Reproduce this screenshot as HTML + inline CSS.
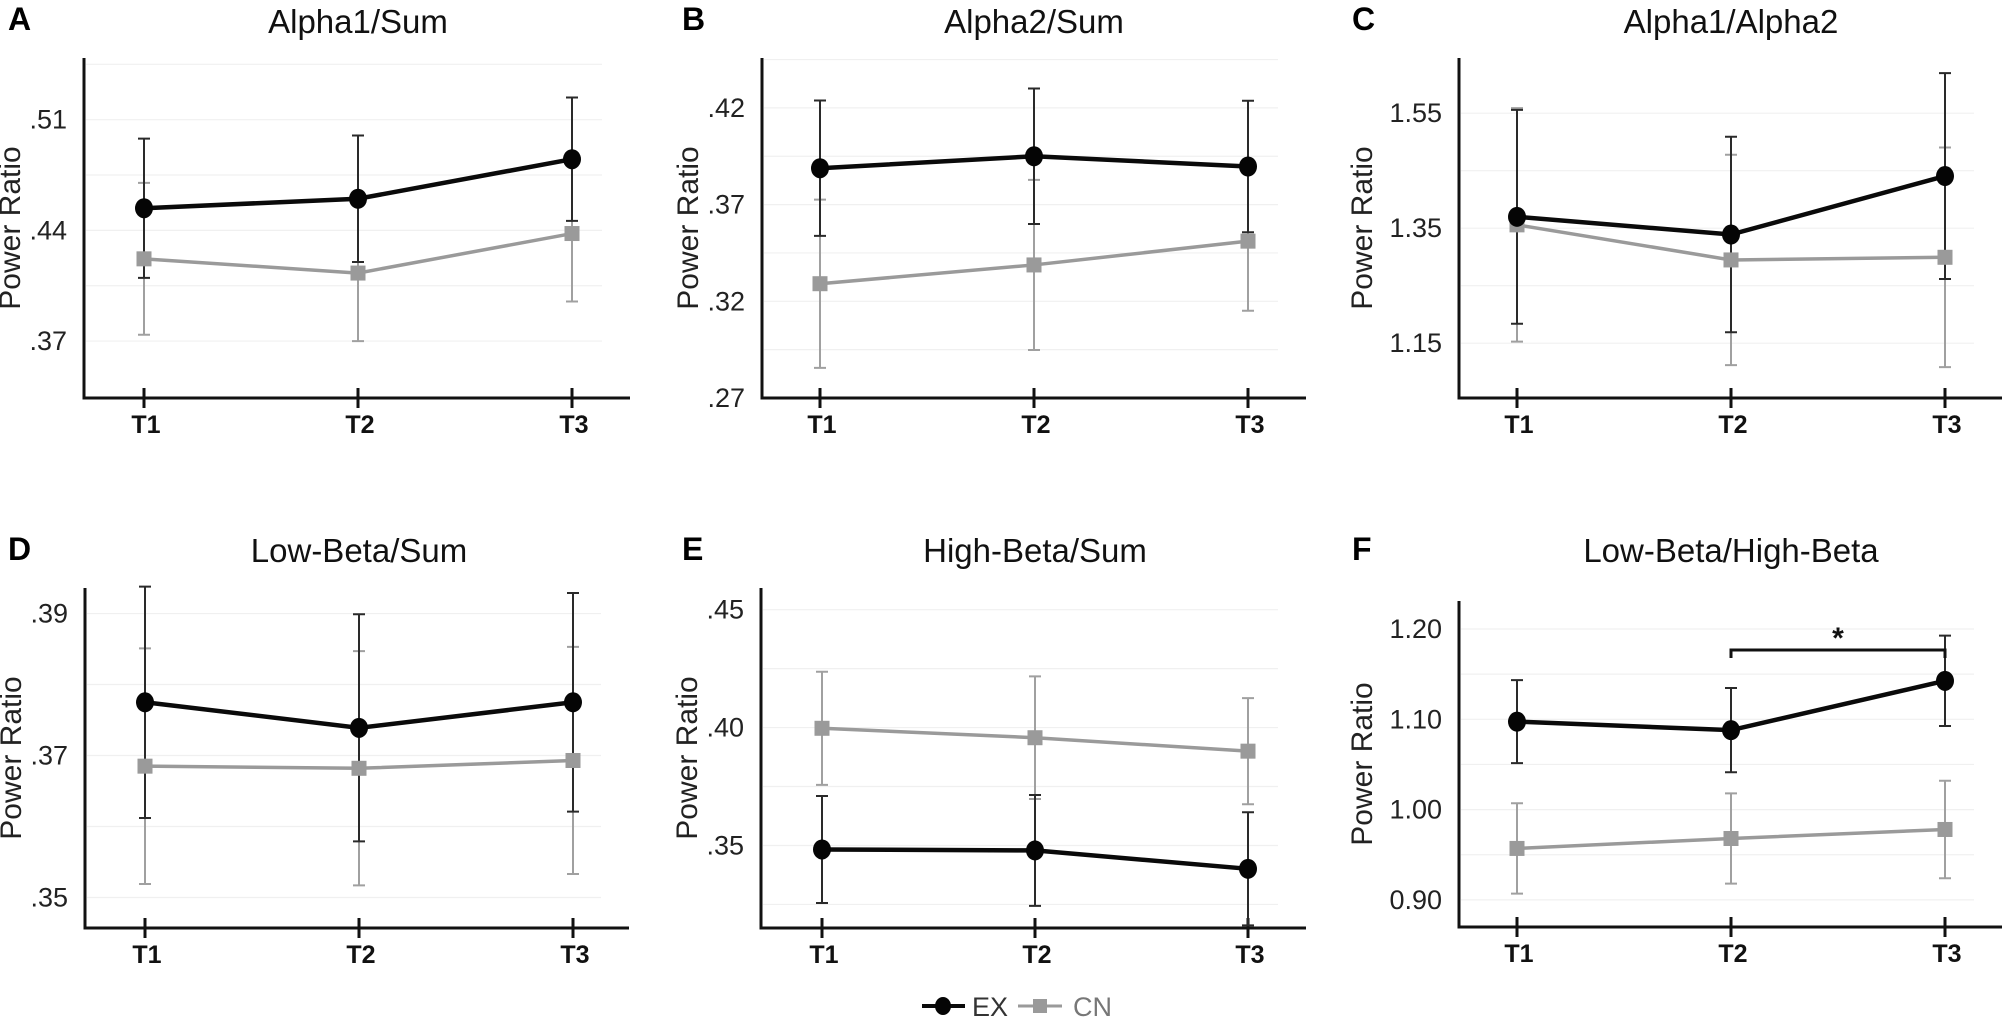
<!DOCTYPE html>
<html><head><meta charset="utf-8">
<style>
html,body{margin:0;padding:0;background:#fff;}
svg{display:block;font-family:"Liberation Sans",Arial,sans-serif;}
.tick{font-family:"Liberation Sans Narrow","Liberation Sans",sans-serif;font-size:27px;fill:#222;}
.xl{font-family:"Liberation Sans Narrow","Liberation Sans",sans-serif;font-size:25px;font-weight:bold;fill:#111;}
.ttl{font-size:33px;fill:#111;}
.yt{font-size:30px;fill:#222;}
.pl{font-size:32px;font-weight:bold;fill:#000;}
</style></head>
<body>
<svg id="chart" width="2010" height="1023" viewBox="0 0 2010 1023"></svg>
<script>
// ---- data ----
const categories = ["T1","T2","T3"];
const panelLetters = ["A","B","C","D","E","F"];
const panelTitles = ["Alpha1/Sum","Alpha2/Sum","Alpha1/Alpha2","Low-Beta/Sum","High-Beta/Sum","Low-Beta/High-Beta"];
const tickLabelsA = [".51",".44",".37"];
const tickLabelsB = [".42",".37",".32",".27"];
const tickLabelsC = ["1.55","1.35","1.15"];
const tickLabelsD = [".39",".37",".35"];
const tickLabelsE = [".45",".40",".35"];
const tickLabelsF = ["1.20","1.10","1.00","0.90"];
const domainA = [0.334, 0.549];
const domainB = [0.270, 0.4458];
const domainC = [1.0547, 1.646];
const domainD = [0.3457, 0.3936];
const domainE = [0.315, 0.4592];
const domainF = [0.870, 1.231];
const exMeanA = [0.454, 0.460, 0.485];
const exErrA  = [0.044, 0.040, 0.039];
const cnMeanA = [0.422, 0.413, 0.438];
const cnErrA  = [0.048, 0.043, 0.043];
const exMeanB = [0.3888, 0.395, 0.3897];
const exErrB  = [0.035, 0.035, 0.034];
const cnMeanB = [0.3291, 0.3388, 0.3511];
const cnErrB  = [0.0435, 0.044, 0.036];
const exMeanC = [1.3698, 1.339, 1.4407];
const exErrC  = [0.186, 0.170, 0.179];
const cnMeanC = [1.3558, 1.2948, 1.2994];
const cnErrC  = [0.203, 0.183, 0.191];
const exMeanD = [0.3775, 0.3739, 0.3775];
const exErrD  = [0.0163, 0.016, 0.0154];
const cnMeanD = [0.3685, 0.3682, 0.3693];
const cnErrD  = [0.0166, 0.0165, 0.016];
const exMeanE = [0.3483, 0.3479, 0.3401];
const exErrE  = [0.0227, 0.0235, 0.024];
const cnMeanE = [0.3997, 0.3957, 0.390];
const cnErrE  = [0.024, 0.026, 0.0225];
const exMeanF = [1.0974, 1.088, 1.1426];
const exErrF  = [0.046, 0.0466, 0.050];
const cnMeanF = [0.957, 0.968, 0.978];
const cnErrF  = [0.050, 0.050, 0.054];
const sigPairF = [1, 2];
const sigLevelF = 1.1767;

const panels = [
 {ticks:tickLabelsA, dom:domainA, ex:exMeanA, exE:exErrA, cn:cnMeanA, cnE:cnErrA},
 {ticks:tickLabelsB, dom:domainB, ex:exMeanB, exE:exErrB, cn:cnMeanB, cnE:cnErrB},
 {ticks:tickLabelsC, dom:domainC, ex:exMeanC, exE:exErrC, cn:cnMeanC, cnE:cnErrC},
 {ticks:tickLabelsD, dom:domainD, ex:exMeanD, exE:exErrD, cn:cnMeanD, cnE:cnErrD},
 {ticks:tickLabelsE, dom:domainE, ex:exMeanE, exE:exErrE, cn:cnMeanE, cnE:cnErrE},
 {ticks:tickLabelsF, dom:domainF, ex:exMeanF, exE:exErrF, cn:cnMeanF, cnE:cnErrF}
];
// layout (geometry, not data)
const layout = [
 {ax:84, t1:144, sp:214, end:630, top:58, bot:398, ty:33, ly:30, yto:64},
 {ax:762, t1:820, sp:214, end:1306, top:58, bot:398, ty:33, ly:30, yto:64},
 {ax:1459, t1:1517, sp:214, end:2002, top:58, bot:398, ty:33, ly:30, yto:87},
 {ax:85, t1:145, sp:214, end:629, top:588, bot:928, ty:562, ly:560, yto:64},
 {ax:761, t1:822, sp:213, end:1306, top:588, bot:928, ty:562, ly:560, yto:64},
 {ax:1459, t1:1517, sp:214, end:2002, top:601, bot:927, ty:562, ly:560, yto:87}
];
const NS = "http://www.w3.org/2000/svg";
const svg = document.getElementById("chart");
function mk(tag, attrs, parent){
  const e = document.createElementNS(NS, tag);
  for (const k in attrs) e.setAttribute(k, attrs[k]);
  (parent||svg).appendChild(e);
  return e;
}
panels.forEach((p, i) => {
  const L = layout[i];
  const g = mk("g", {});
  
  
  const xs = k => L.t1 + k * L.sp;
  const ys = v => L.bot - (v - p.dom[0]) / (p.dom[1] - p.dom[0]) * (L.bot - L.top);
  const tickVals = p.ticks.map(Number);
  const step = tickVals.length > 1 ? Math.abs(tickVals[0] - tickVals[1]) : 0.1;
  for (let v = Math.min(...tickVals) - step; v <= p.dom[1] + 1e-9; v += step / 2) {
    if (v < p.dom[0] + step*0.05) continue;
    const gl = mk("line", {x1:L.ax+2, x2:L.end-28, y1:ys(v), y2:ys(v), stroke:"#f0f0f0", "stroke-width":1.2}, g);
    
    
  }
  const lt = mk("text", {x:8, y:L.ly, class:"pl"}, g);
  lt.setAttribute('x', i % 3 === 0 ? 8 : (i % 3 === 1 ? 682 : 1352));
  lt.textContent = panelLetters[i];
  
  
  const tt = mk("text", {x:xs(1), y:L.ty, "text-anchor":"middle", class:"ttl"}, g);
  tt.textContent = panelTitles[i];
  
  
  const ya = mk("line", {x1:L.ax, x2:L.ax, y1:L.top, y2:L.bot+1.5, stroke:"#111", "stroke-width":3}, g);
  
  
  const xa = mk("line", {x1:L.ax-1.5, x2:L.end, y1:L.bot, y2:L.bot, stroke:"#111", "stroke-width":3}, g);
  
  
  p.ticks.forEach((t, k) => {
    const tl = mk("text", {x:L.ax-17, y:ys(tickVals[k])+9, "text-anchor":"end", class:"tick"}, g);
    tl.textContent = t;
    
    
  });
  const cy = (L.top + L.bot) / 2;
  const yt = mk("text", {x:0, y:0, "text-anchor":"middle", class:"yt",
     transform:"translate(" + (L.ax-L.yto) + "," + cy + ") rotate(-90)"}, g);
  yt.textContent = "Power Ratio";
  
  
  categories.forEach((c, k) => {
    const tk = mk("line", {x1:xs(k), x2:xs(k), y1:L.bot-10, y2:L.bot+10, stroke:"#111", "stroke-width":3}, g);
    
    
    const xl = mk("text", {x:xs(k)+2, y:L.bot+35, "text-anchor":"middle", class:"xl"}, g);
    xl.textContent = c;
    
    
  });
  const series = [
    {m:p.cn, e:p.cnE, col:"#9a9a9a", ecol:"#a0a0a0", w:3.5, name:"cn"},
    {m:p.ex, e:p.exE, col:"#0a0a0a", ecol:"#2a2a2a", w:4.5, name:"ex"}
  ];
  series.forEach(s => {
    s.m.forEach((v, k) => {
      const x = xs(k);
      const eb = mk("path", {d:"M"+x+","+ys(v+s.e[k])+"V"+ys(v-s.e[k])+
         "M"+(x-6)+","+ys(v+s.e[k])+"H"+(x+6)+"M"+(x-6)+","+ys(v-s.e[k])+"H"+(x+6),
         stroke:s.ecol, "stroke-width":2, fill:"none"}, g);
      
      
    });
  });
  series.forEach(s => {
    const ln = mk("polyline", {points:s.m.map((v,k)=>xs(k)+","+ys(v)).join(" "),
       fill:"none", stroke:s.col, "stroke-width":s.w}, g);
    
    
    s.m.forEach((v, k) => {
      let mrk;
      if (s.name === "ex") mrk = mk("ellipse", {cx:xs(k), cy:ys(v), rx:9, ry:10, fill:"#050505"}, g);
      else mrk = mk("rect", {x:xs(k)-7.5, y:ys(v)-7.5, width:15, height:15, fill:"#9a9a9a"}, g);
      
      
    });
  });
  if (i === 5) {
    const y = ys(sigLevelF);
    const br = mk("path", {d:"M"+xs(sigPairF[0])+","+(y+8)+"V"+y+"H"+xs(sigPairF[1])+"V"+(y+8),
       stroke:"#111", "stroke-width":3, fill:"none"}, g);
    
    
    const st = mk("text", {x:(xs(sigPairF[0])+xs(sigPairF[1]))/2, y:y-2, "text-anchor":"middle",
       "font-size":"30", "font-weight":"bold", fill:"#111"}, g);
    st.textContent = "*";
    
    
  }
});
const lg = mk("g", {});


const l1 = mk("g", {}, lg);


mk("line", {x1:922, x2:965, y1:1006, y2:1006, stroke:"#0a0a0a", "stroke-width":4}, l1);
mk("ellipse", {cx:943, cy:1006, rx:8, ry:9, fill:"#050505"}, l1);
const t1 = mk("text", {x:972, y:1016, "font-size":"27", fill:"#333"}, l1);
t1.textContent = "EX";
const l2 = mk("g", {}, lg);


mk("line", {x1:1018, x2:1062, y1:1006, y2:1006, stroke:"#9a9a9a", "stroke-width":3}, l2);
mk("rect", {x:1033, y:999, width:14, height:14, fill:"#9a9a9a"}, l2);
const t2 = mk("text", {x:1073, y:1016, "font-size":"27", fill:"#777"}, l2);
t2.textContent = "CN";
</script>
</body></html>
